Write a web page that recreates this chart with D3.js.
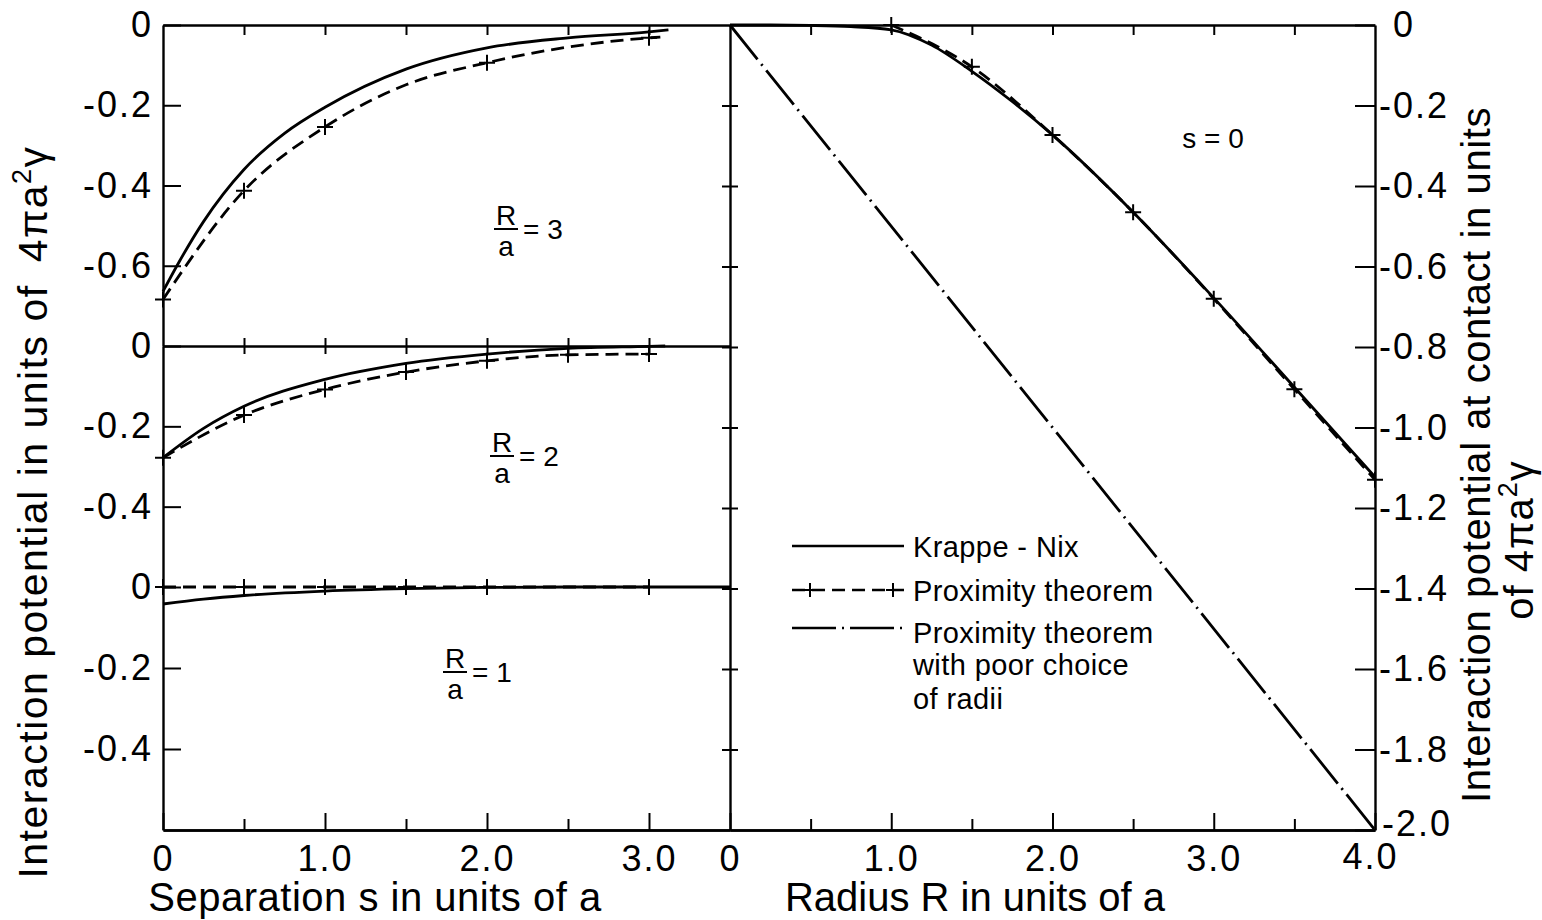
<!DOCTYPE html>
<html>
<head>
<meta charset="utf-8">
<script src="https://cdn.jsdelivr.net/npm/d3@7"></script>
<style>
  body { margin: 0; background: #fff; }
  svg text { font-family: "Liberation Sans", Arial, sans-serif; fill: #000; }
</style>
</head>
<body>
<svg></svg>
<script>
const width = 1542;
const height = 920;

// left panels: separation s (units of a)
const sKn3 = [0, 0.1, 0.25, 0.5, 0.75, 1.0, 1.5, 2.0, 2.5, 3.0, 3.12];
const kn3 = [-0.664, -0.59, -0.49, -0.36, -0.27, -0.205, -0.11, -0.057, -0.032, -0.017, -0.012];
const sPt3 = [0, 0.5, 1.0, 1.5, 2.0, 2.5, 3.0, 3.07];
const pt3 = [-0.684, -0.413, -0.254, -0.149, -0.094, -0.055, -0.032, -0.03];
const sMk3 = [0, 0.5, 1.0, 2.0, 3.0];

const sKn2 = [0, 0.25, 0.5, 1.0, 1.5, 2.0, 2.5, 3.0, 3.1];
const kn2 = [-0.278, -0.205, -0.15, -0.083, -0.043, -0.02, -0.006, -0.001, 0];
const sPt2 = [0, 0.5, 1.0, 1.5, 2.0, 2.5, 3.0];
const pt2 = [-0.278, -0.172, -0.108, -0.065, -0.037, -0.022, -0.02];
const sMk2 = [0, 0.5, 1.0, 1.5, 2.0, 2.5, 3.0];

const sKn1 = [0, 0.25, 0.5, 1.0, 1.5, 2.0, 2.5, 3.0, 3.5];
const kn1 = [-0.042, -0.03, -0.021, -0.01, -0.004, -0.001, 0, 0, 0];
const sPt1 = [0, 0.5, 1.0, 1.5, 2.0, 3.0];
const pt1 = [0, 0, 0, 0, 0, 0];
const sMk1 = [0, 0.5, 1.0, 1.5, 2.0, 3.0];

// right panel: radius R (units of a), s = 0
const rKn = [0, 0.25, 0.5, 0.75, 1.0, 1.25, 1.5, 1.75, 2.0, 2.5, 3.0, 3.5, 4.0];
const knR = [0, 0, -0.001, -0.004, -0.012, -0.05, -0.115, -0.19, -0.273, -0.465, -0.678, -0.9, -1.123];
const rPt = [1.0, 1.5, 2.0, 2.5, 3.0, 3.5, 4.0];
const ptR = [0, -0.104, -0.273, -0.465, -0.68, -0.905, -1.13];
const rPoor = [0, 4.0];
const poorR = [0, -2.0];

// ticks
const yTicks3 = [0, -0.2, -0.4, -0.6];
const yTicks2 = [0, -0.2, -0.4];
const yTicks1 = [0, -0.2, -0.4];
const yTicksR = [0, -0.2, -0.4, -0.6, -0.8, -1.0, -1.2, -1.4, -1.6, -1.8, -2.0];
const sMajor = [0, 1, 2, 3];
const sMinor = [0.5, 1.5, 2.5];
const rMajor = [0, 1, 2, 3, 4];
const rMinor = [0.5, 1.5, 2.5, 3.5];

const legendNames = ["Krappe - Nix", "Proximity theorem", "Proximity theorem", "with poor choice", "of radii"];

const svg = d3.select("svg").attr("width", width).attr("height", height);

const xL = d3.scaleLinear().domain([0, 3.5]).range([163, 730]);
const y3 = d3.scaleLinear().domain([-0.8, 0]).range([346, 25]);
const y2 = d3.scaleLinear().domain([-0.6, 0]).range([587, 346]);
const y1 = d3.scaleLinear().domain([-0.6, 0]).range([830, 587]);
const xR = d3.scaleLinear().domain([0, 4]).range([730, 1375]);
const yR = d3.scaleLinear().domain([-2, 0]).range([830, 25]);

const fmtY = (d) => (Math.abs(d) < 1e-9 ? "0" : "-" + Math.abs(d).toFixed(1));
const fmtX = (d) => (d === 0 ? "0" : d.toFixed(1));

const styleAxis = (g, size) => {
  g.attr("font-size", null).attr("font-family", null);
  g.select(".domain").attr("stroke-width", 2.4);
  g.selectAll(".tick line").attr("stroke-width", 2);
  g.selectAll(".tick text").style("font-size", size + "px").style("letter-spacing", "2px");
};

// left axis of the three stacked panels
[[y3, yTicks3], [y2, yTicks2], [y1, yTicks1]].forEach(([y, t]) => {
  svg.append("g")
    .attr("transform", "translate(" + xL(0) + ",0)")
    .call(d3.axisLeft(y).tickValues(t).tickFormat(fmtY).tickSizeInner(-18).tickSizeOuter(0).tickPadding(10))
    .call(styleAxis, 36);
});

// top edges
svg.append("g").attr("transform", "translate(0," + y3(0) + ")")
  .call(d3.axisTop(xL).tickValues([0.5, 1, 1.5, 2, 2.5, 3]).tickFormat("").tickSizeInner(-10).tickSizeOuter(0))
  .call(styleAxis, 36);
svg.append("g").attr("transform", "translate(0," + yR(0) + ")")
  .call(d3.axisTop(xR).tickValues(rMinor.concat([1, 2, 3])).tickFormat("").tickSizeInner(-10).tickSizeOuter(0))
  .call(styleAxis, 36);

// divider between R/a=3 and R/a=2 with crossing ticks
svg.append("g").attr("transform", "translate(0," + y2(0) + ")")
  .call(d3.axisBottom(xL).tickValues([0.5, 1, 1.5, 2, 2.5, 3]).tickFormat("").tickSize(8).tickSizeOuter(0))
  .call(styleAxis, 36)
  .selectAll(".tick line").attr("y1", -8);

// bottom axes
const bottom = (x, major, minor) => {
  const g = svg.append("g").attr("transform", "translate(0,830)")
    .call(d3.axisBottom(x).tickValues(major).tickFormat(fmtX).tickSizeInner(-17).tickSizeOuter(0).tickPadding(15))
    .call(styleAxis, 36);
  svg.append("g").attr("transform", "translate(0,830)")
    .call(d3.axisBottom(x).tickValues(minor).tickFormat("").tickSizeInner(-11).tickSizeOuter(0))
    .call(styleAxis, 36);
  return g;
};
bottom(xL, sMajor, sMinor);
bottom(xR, rMajor, rMinor)
  .selectAll(".tick text").filter((d) => d === 4).attr("x", -5).attr("y", 13);

// shared middle vertical with crossing ticks
svg.append("g").attr("transform", "translate(" + xR(0) + ",0)")
  .call(d3.axisLeft(yR).tickValues(yTicksR.slice(1, -1)).tickFormat("").tickSize(8).tickSizeOuter(0))
  .call(styleAxis, 36)
  .selectAll(".tick line").attr("x1", 8);

// right axis
const gR = svg.append("g").attr("transform", "translate(" + xR(4) + ",0)")
  .call(d3.axisRight(yR).tickValues(yTicksR).tickFormat(fmtY).tickSizeInner(-20).tickSizeOuter(0).tickPadding(4))
  .call(styleAxis, 36);
gR.selectAll(".tick text").filter((d) => d === 0).attr("x", 18);
gR.selectAll(".tick text").filter((d) => d === -2).attr("x", 7).attr("y", -6);

// curves
const draw = (xs, ys, x, y, dash, curve) => {
  const line = d3.line().x((d) => x(d[0])).y((d) => y(d[1])).curve(curve || d3.curveMonotoneX);
  svg.append("path")
    .datum(d3.zip(xs, ys))
    .attr("d", line)
    .attr("fill", "none")
    .attr("stroke", "#000")
    .attr("stroke-width", 2.8)
    .attr("stroke-dasharray", dash);
};
const crosses = (xs, x, y, fn) => {
  svg.append("g").selectAll("path")
    .data(xs)
    .join("path")
    .attr("d", (d) => {
      const px = x(d), py = y(fn(d));
      return "M" + (px - 8) + "," + py + "H" + (px + 8) + "M" + px + "," + (py - 8) + "V" + (py + 8);
    })
    .attr("stroke", "#000")
    .attr("stroke-width", 2);
};
const dashPT = "13,7";
const dashPoor = "44,6,2,6";

draw(sKn3, kn3, xL, y3, null);
draw(sPt3, pt3, xL, y3, dashPT);
crosses(sMk3, xL, y3, (s) => pt3[sPt3.indexOf(s)]);

draw(sKn2, kn2, xL, y2, null);
draw(sPt2, pt2, xL, y2, dashPT);
crosses(sMk2, xL, y2, (s) => pt2[sPt2.indexOf(s)]);

draw(sKn1, kn1, xL, y1, null);
draw(sPt1, pt1, xL, y1, dashPT, d3.curveLinear);
crosses(sMk1, xL, y1, (s) => pt1[sPt1.indexOf(s)]);

draw(rKn, knR, xR, yR, null);
draw(rPt, ptR, xR, yR, dashPT);
crosses(rPt, xR, yR, (r) => ptR[rPt.indexOf(r)]);
draw(rPoor, poorR, xR, yR, dashPoor, d3.curveLinear);

// R/a labels
const frac = (cx, bar, num) => {
  const g = svg.append("g").style("font-size", "28px");
  g.append("text").attr("x", cx).attr("y", bar - 4).attr("text-anchor", "middle").text("R");
  g.append("text").attr("x", cx).attr("y", bar + 27).attr("text-anchor", "middle").text("a");
  g.append("text").attr("x", cx + 17).attr("y", bar + 10).text("= " + num);
  g.append("line").attr("x1", cx - 12).attr("x2", cx + 12).attr("y1", bar).attr("y2", bar)
    .attr("stroke", "#000").attr("stroke-width", 2);
};
frac(506, 229, 3);
frac(502, 456, 2);
frac(455, 672, 1);

svg.append("text").attr("x", 1213).attr("y", 148).attr("text-anchor", "middle")
  .style("font-size", "28px").text("s = 0");

// legend
const legend = svg.append("g").style("font-size", "29px");
[[546, null], [590, dashPT], [628, dashPoor]].forEach(([y, dash]) => {
  legend.append("line").attr("x1", 792).attr("x2", 904).attr("y1", y).attr("y2", y)
    .attr("stroke", "#000").attr("stroke-width", 2.4).attr("stroke-dasharray", dash);
});
legend.selectAll("text")
  .data(legendNames)
  .join("text")
  .attr("x", 913)
  .attr("y", (d, i) => [557, 601, 643, 675, 709][i])
  .style("letter-spacing", "0.4px")
  .text((d) => d);
legend.selectAll("path").data([810, 893]).join("path")
  .attr("d", (d) => "M" + (d - 7) + ",590H" + (d + 7) + "M" + d + ",583V597")
  .attr("stroke", "#000").attr("stroke-width", 2);

// axis titles
svg.append("text").attr("x", 375).attr("y", 911).attr("text-anchor", "middle")
  .style("font-size", "40px").style("letter-spacing", "0.5px").text("Separation s in units of a");
svg.append("text").attr("x", 975).attr("y", 911).attr("text-anchor", "middle")
  .style("font-size", "40px").text("Radius R in units of a");

const leftTitle = svg.append("text")
  .attr("transform", "translate(47,512) rotate(-90)")
  .attr("text-anchor", "middle")
  .style("font-size", "41px").style("letter-spacing", "1.5px");
leftTitle.append("tspan").text("Interaction potential in units of");
leftTitle.append("tspan").attr("dx", 22).text("4\u03c0a");
leftTitle.append("tspan").attr("dy", -16).style("font-size", "27px").text("2");
leftTitle.append("tspan").attr("dy", 16).text("\u03b3");

svg.append("text")
  .attr("transform", "translate(1490,455) rotate(-90)")
  .attr("text-anchor", "middle")
  .style("font-size", "40px").style("letter-spacing", "0.6px")
  .text("Interaction potential at contact in units");
const rightTitle2 = svg.append("text")
  .attr("transform", "translate(1533,540) rotate(-90)")
  .attr("text-anchor", "middle")
  .style("font-size", "40px").style("letter-spacing", "1px");
rightTitle2.append("tspan").text("of 4\u03c0a");
rightTitle2.append("tspan").attr("dy", -16).style("font-size", "27px").text("2");
rightTitle2.append("tspan").attr("dy", 16).text("\u03b3");
</script>
</body>
</html>
